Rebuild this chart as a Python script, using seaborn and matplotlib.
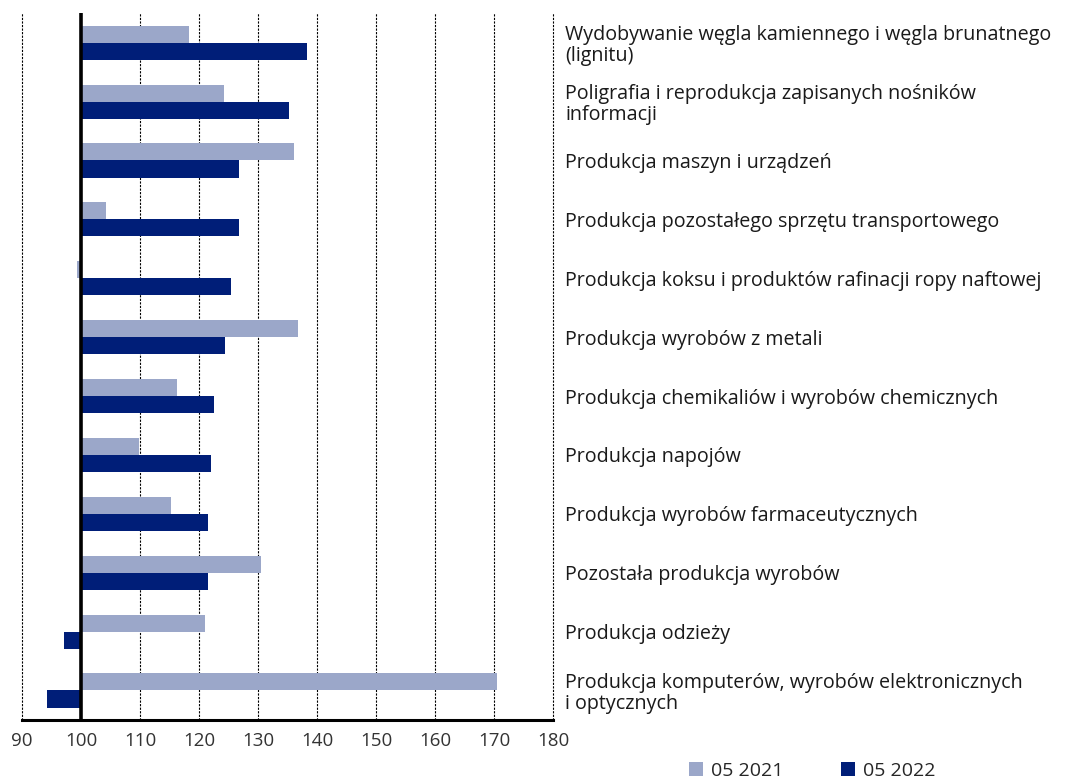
import matplotlib
matplotlib.use('Agg')
import matplotlib.pyplot as plt
from matplotlib.ticker import FixedLocator, FuncFormatter
import seaborn as sns
import pandas as pd

# ------------------------------------------------------------------
# Dane (indeks, 100 = poziom bazowy)
# ------------------------------------------------------------------
kategorie = [
    "Wydobywanie węgla kamiennego i węgla brunatnego\n(lignitu)",
    "Poligrafia i reprodukcja zapisanych nośników\ninformacji",
    "Produkcja maszyn i urządzeń",
    "Produkcja pozostałego sprzętu transportowego",
    "Produkcja koksu i produktów rafinacji ropy naftowej",
    "Produkcja wyrobów z metali",
    "Produkcja chemikaliów i wyrobów chemicznych",
    "Produkcja napojów",
    "Produkcja wyrobów farmaceutycznych",
    "Pozostała produkcja wyrobów",
    "Produkcja odzieży",
    "Produkcja komputerów, wyrobów elektronicznych\ni optycznych",
]
wart_2021 = [118.3, 124.2, 136.1, 104.2, 99.3, 136.8, 116.3, 109.9, 115.3, 130.5, 121.0, 170.5]
wart_2022 = [138.3, 135.3, 126.8, 126.8, 125.5, 124.4, 122.5, 122.0, 121.6, 121.6, 97.1, 94.2]
serie = ["05 2021", "05 2022"]
kolory = ["#9ba7c9", "#001e78"]
baza = 100
ticki = list(range(90, 181, 10))

df = pd.DataFrame({
    "kategoria": kategorie * 2,
    "okres": [serie[0]] * len(kategorie) + [serie[1]] * len(kategorie),
    "wartosc": wart_2021 + wart_2022,
})
# słupki rysowane od poziomu bazowego (odchylenie od 100)
df["odchylenie"] = df["wartosc"] - baza

# ------------------------------------------------------------------
# Wykres
# ------------------------------------------------------------------
sns.set_style("white")
plt.rcParams['font.family'] = ['Open Sans', 'DejaVu Sans']

fig = plt.figure(figsize=(10.8, 7.8), dpi=100)
ax = fig.add_axes([0.0204, 0.077, 0.4916, 0.906])

sns.barplot(data=df, y="kategoria", x="odchylenie", hue="okres",
            order=kategorie, hue_order=serie, palette=kolory,
            orient="h", width=0.58, gap=0, saturation=1,
            edgecolor="none", ax=ax, zorder=2)

ax.set_xlim(ticki[0] - baza, ticki[-1] - baza)
ax.xaxis.set_major_locator(FixedLocator([t - baza for t in ticki]))
ax.xaxis.set_major_formatter(FuncFormatter(lambda v, pos: f"{v + baza:.0f}"))

# siatka pionowa przerywana (skrajne linie też widoczne)
for t in ticki:
    if t == baza:
        continue
    ax.axvline(t - baza, color="black", lw=0.8, ls=(0, (2, 1.2)),
               zorder=1, clip_on=False)
ax.axvline(0, color="black", lw=2.6, zorder=3)

# etykiety kategorii po prawej stronie
ax.yaxis.tick_right()
ax.tick_params(axis="y", length=0, pad=9, labelsize=14.2, labelcolor="#1a1a1a")
for lab in ax.get_yticklabels():
    lab.set_horizontalalignment("left")
    lab.set_linespacing(1.05)
ax.tick_params(axis="x", length=5, width=1.2, direction="out",
               labelsize=13.5, labelcolor="#333333", pad=4)

for s in ["top", "left", "right"]:
    ax.spines[s].set_visible(False)
ax.spines["bottom"].set_color("black")
ax.spines["bottom"].set_linewidth(2.2)
ax.spines["bottom"].set_zorder(4)

ax.set_xlabel("")
ax.set_ylabel("")

# legenda na dole
handles, labels = ax.get_legend_handles_labels()
ax.legend_.remove()
fig.legend(handles, labels, loc="center", bbox_to_anchor=(0.752, 0.012),
           ncol=2, frameon=False, fontsize=14, handlelength=0.7,
           handleheight=0.7, handletextpad=0.4, columnspacing=3.0)

fig.savefig("out.png", dpi=100)
plt.close(fig)
